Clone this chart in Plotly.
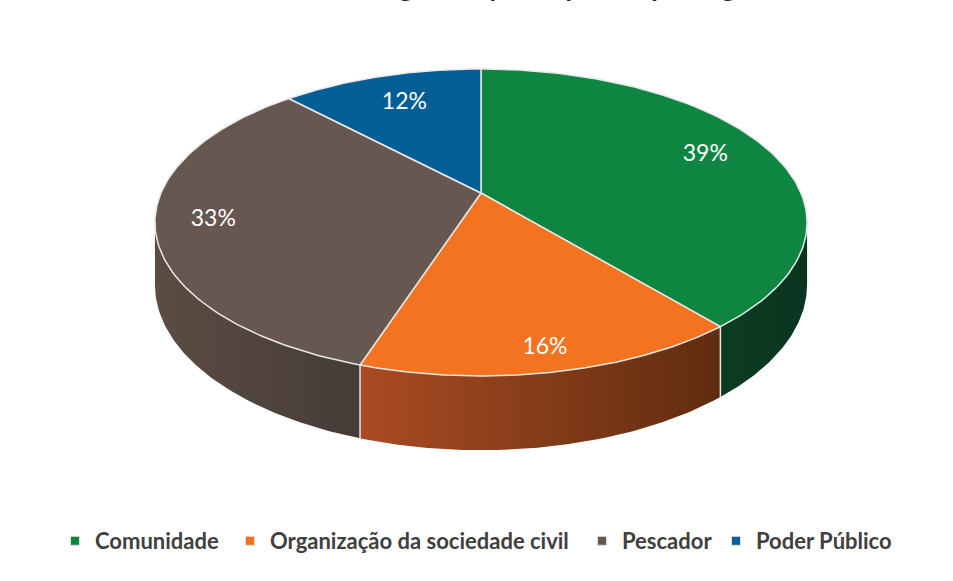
import numpy as np
import plotly.graph_objects as go

# ---- data ----
categories = ["Comunidade", "Organização da sociedade civil", "Pescador", "Poder Público"]
values = [39, 16, 33, 12]
labels = ["39%", "16%", "33%", "12%"]
title_text = "Percentagem de participantes por segmento"

# ---- styling ----
top_colors = ["#0E8642", "#F37321", "#665850", "#045E96"]
side_grad = [("#0C3D22", "#0A3420"), ("#AA4B23", "#5F2D0F"),
             ("#5C4C43", "#453C37"), ("#03456D", "#03456D")]
edge_col = "#E8E8E8"

W, H = 953, 581
OFF = 0                     # page offset of the figure (body margin removed)
CX, CY = 481, 193           # pie centre on screen
A, B, K = 320, 147.8, 0.192  # ellipse half-axes and perspective factor
D0 = 60                     # thickness
legend_text_x = [95, 270, 622, 756]   # layout: where each legend entry starts
LEG_Y = 541


def proj(phi_deg, r=1.0, depth=0.0):
    phi = np.radians(phi_deg)
    u = r * np.sin(phi)
    v = -r * np.cos(phi)
    w = 1 - K * v
    return CX + A * u / w, CY + B * v / w + depth * D0 / w


fig = go.Figure()

total = sum(values)
cum = np.concatenate([[0], np.cumsum(values)]) / total * 360.0
right_sil = np.degrees(np.arccos(-K))
left_sil = 360 - right_sil

# sides
for i in range(len(values)):
    a, b = max(cum[i], right_sil), min(cum[i + 1], left_sil)
    if b <= a:
        continue
    ph = np.linspace(a, b, 80)
    xt, yt = proj(ph)
    xb, yb = proj(ph[::-1], depth=1)
    fig.add_trace(go.Scatter(
        x=np.concatenate([xt, xb, xt[:1]]), y=np.concatenate([yt, yb, yt[:1]]),
        mode="lines", line=dict(width=0), fill="toself",
        fillgradient=dict(type="horizontal",
                          colorscale=[[0, side_grad[i][0]], [1, side_grad[i][1]]]),
        hoverinfo="skip", showlegend=False))

# side boundary lines
for c in cum[1:-1]:
    if right_sil < c < left_sil:
        x0, y0 = proj(c)
        x1, y1 = proj(c, depth=1)
        fig.add_trace(go.Scatter(x=[x0, x1], y=[y0, y1], mode="lines",
                                 line=dict(color=edge_col, width=1.5),
                                 hoverinfo="skip", showlegend=False))

# top slices
for i in range(len(values)):
    ph = np.linspace(cum[i], cum[i + 1], 120)
    xa, ya = proj(ph)
    fig.add_trace(go.Scatter(
        x=np.concatenate([[CX], xa, [CX]]), y=np.concatenate([[CY], ya, [CY]]),
        mode="lines", line=dict(color=edge_col, width=1.5), fill="toself",
        fillcolor=top_colors[i], hoverinfo="skip", showlegend=False))

# labels (radius grows toward the viewer, like the perspective layout)
mids = (cum[:-1] + cum[1:]) / 2
vmid = -np.cos(np.radians(mids))
lx, ly = proj(mids, r=0.81 + 0.08 * vmid)
fig.add_trace(go.Scatter(x=lx, y=ly, mode="text", text=labels,
                         textfont=dict(family="Lato", size=23, color="white"),
                         hoverinfo="skip", showlegend=False))

# legend entries, one legend each so spacing can match
legends = {}
for i, c in enumerate(categories):
    key = "legend" if i == 0 else f"legend{i + 1}"
    fig.add_trace(go.Scatter(x=[None], y=[None], mode="markers", name=c, legend=key,
                             marker=dict(symbol="square", size=9, color=top_colors[i],
                                         line=dict(color="#E0E0E0", width=1))))
    legends[key] = dict(x=(legend_text_x[i] - 40 - OFF) / W, xanchor="left",
                        y=(H + OFF - LEG_Y) / H, yanchor="middle",
                        bgcolor="rgba(0,0,0,0)", borderwidth=0,
                        font=dict(family="Lato", size=22, color="#404040", weight="bold"))

fig.add_annotation(text="<b><i>" + title_text + "</i></b>", xref="paper", yref="paper",
                   x=(554 - OFF) / W, y=1, xanchor="center", yanchor="bottom", yshift=-4,
                   showarrow=False, font=dict(family="Lato", size=28, color="#262626"))

fig.update_layout(
    width=W, height=H, margin=dict(l=0, r=0, t=0, b=0),
    paper_bgcolor="white", plot_bgcolor="white",
    xaxis=dict(range=[OFF, W + OFF], visible=False, fixedrange=True),
    yaxis=dict(range=[H + OFF, OFF], visible=False, fixedrange=True),
    **legends,
)

fig.write_html("out.html", config={"displayModeBar": False},
               post_script="document.body.style.margin='0';")
